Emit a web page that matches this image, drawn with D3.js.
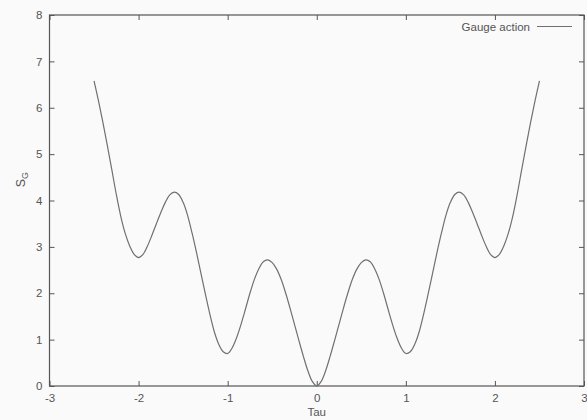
<!DOCTYPE html>
<html>
<head>
<meta charset="utf-8">
<script src="https://cdn.jsdelivr.net/npm/d3@7"></script>
<style>
  html, body { margin: 0; padding: 0; background: #fafafa; }
  svg { display: block; }
  text { font-family: "Liberation Sans", Arial, sans-serif; fill: #555; }
</style>
</head>
<body>
<svg id="chart" width="587" height="420"></svg>
<script>
// Gauge action S_G as a function of Tau
const tau = [
  -2.50, -2.45, -2.40, -2.35, -2.30, -2.25, -2.20, -2.15, -2.10, -2.05,
  -2.00, -1.95, -1.90, -1.85, -1.80, -1.75, -1.70, -1.65, -1.60, -1.55,
  -1.50, -1.45, -1.40, -1.35, -1.30, -1.25, -1.20, -1.15, -1.10, -1.05,
  -1.00, -0.95, -0.90, -0.85, -0.80, -0.75, -0.70, -0.65, -0.60, -0.55,
  -0.50, -0.45, -0.40, -0.35, -0.30, -0.25, -0.20, -0.15, -0.10, -0.05,
   0.00,
   0.05,  0.10,  0.15,  0.20,  0.25,  0.30,  0.35,  0.40,  0.45,  0.50,
   0.55,  0.60,  0.65,  0.70,  0.75,  0.80,  0.85,  0.90,  0.95,  1.00,
   1.05,  1.10,  1.15,  1.20,  1.25,  1.30,  1.35,  1.40,  1.45,  1.50,
   1.55,  1.60,  1.65,  1.70,  1.75,  1.80,  1.85,  1.90,  1.95,  2.00,
   2.05,  2.10,  2.15,  2.20,  2.25,  2.30,  2.35,  2.40,  2.45,  2.50
];
const gaugeAction = [
  6.58, 6.15, 5.68, 5.18, 4.66, 4.13, 3.66, 3.29, 3.02, 2.84,
  2.77, 2.84, 3.02, 3.25, 3.50, 3.74, 3.96, 4.12, 4.18, 4.13,
  3.96, 3.68, 3.30, 2.88, 2.43, 1.98, 1.55, 1.17, 0.90, 0.74,
  0.70, 0.82, 1.04, 1.33, 1.66, 2.00, 2.30, 2.53, 2.68, 2.72,
  2.66, 2.52, 2.30, 2.01, 1.68, 1.33, 0.98, 0.64, 0.33, 0.10,
  0.00,
  0.10, 0.33, 0.64, 0.98, 1.33, 1.68, 2.01, 2.30, 2.52, 2.66,
  2.72, 2.68, 2.53, 2.30, 2.00, 1.66, 1.33, 1.04, 0.82, 0.70,
  0.74, 0.90, 1.17, 1.55, 1.98, 2.43, 2.88, 3.30, 3.68, 3.96,
  4.13, 4.18, 4.12, 3.96, 3.74, 3.50, 3.25, 3.02, 2.84, 2.77,
  2.84, 3.02, 3.29, 3.66, 4.13, 4.66, 5.18, 5.68, 6.15, 6.58
];
const xTicks = [-3, -2, -1, 0, 1, 2, 3];
const yTicks = [0, 1, 2, 3, 4, 5, 6, 7, 8];
const seriesName = "Gauge action";

const margin = { left: 49.5, right: 3, top: 15, bottom: 34 };
const W = 587, H = 420;
const svg = d3.select("#chart");

const x = d3.scaleLinear().domain([-3, 3]).range([margin.left, W - margin.right]);
const y = d3.scaleLinear().domain([0, 8]).range([H - margin.bottom, margin.top]);

const axisColor = "#555";
const tickLen = 5;

// inward ticks on all four sides, labels only left and bottom
const gBottom = svg.append("g").attr("transform", `translate(0,${y(0)})`)
  .call(d3.axisBottom(x).tickValues(xTicks).tickSize(-tickLen).tickPadding(8).tickFormat(d => String(d)));
const gTop = svg.append("g").attr("transform", `translate(0,${y(8)})`)
  .call(d3.axisTop(x).tickValues(xTicks).tickSize(-tickLen).tickFormat(""));
const gLeft = svg.append("g").attr("transform", `translate(${x(-3)},0)`)
  .call(d3.axisLeft(y).tickValues(yTicks).tickSize(-tickLen).tickPadding(7).tickFormat(d => String(d)));
const gRight = svg.append("g").attr("transform", `translate(${x(3)},0)`)
  .call(d3.axisRight(y).tickValues(yTicks).tickSize(-tickLen).tickFormat(""));

[gBottom, gTop, gLeft, gRight].forEach(g => {
  g.select(".domain").remove();
  g.selectAll(".tick line").attr("stroke", axisColor).attr("stroke-width", 1);
  g.selectAll(".tick text").attr("fill", "#555").style("font-size", "11.5px")
    .style("font-family", "'Liberation Sans', Arial, sans-serif");
});

// plot frame
svg.append("rect")
  .attr("x", x(-3)).attr("y", y(8))
  .attr("width", x(3) - x(-3)).attr("height", y(0) - y(8))
  .attr("fill", "none").attr("stroke", axisColor).attr("stroke-width", 1.2);

// curve
const pts = tau.map((t, i) => [t, gaugeAction[i]]);
svg.append("path")
  .datum(pts)
  .attr("fill", "none")
  .attr("stroke", "#707070")
  .attr("stroke-width", 1.2)
  .attr("d", d3.line().x(d => x(d[0])).y(d => y(d[1])).curve(d3.curveCatmullRom.alpha(0.5)));

// axis titles
svg.append("text")
  .attr("x", x(0)).attr("y", 416)
  .attr("text-anchor", "middle")
  .style("font-size", "11.5px")
  .text("Tau");

const yl = svg.append("text")
  .attr("transform", `translate(25,${y(4.45)}) rotate(-90)`)
  .attr("text-anchor", "middle")
  .style("font-size", "12.5px");
yl.append("tspan").text("S");
yl.append("tspan").attr("dy", 3).style("font-size", "9px").text("G");

// legend
const ly = 26.5;
svg.append("text")
  .attr("x", 530).attr("y", ly + 4)
  .attr("text-anchor", "end")
  .style("font-size", "11.5px")
  .text(seriesName);
svg.append("line")
  .attr("x1", 537).attr("x2", 572)
  .attr("y1", ly).attr("y2", ly)
  .attr("stroke", "#707070").attr("stroke-width", 1.2);
</script>
</body>
</html>
